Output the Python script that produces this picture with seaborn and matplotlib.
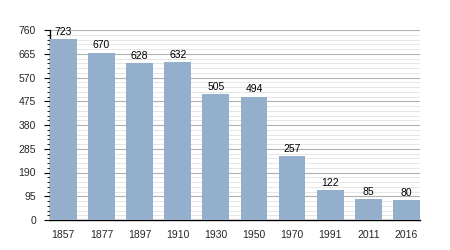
import matplotlib
matplotlib.use("Agg")
import matplotlib.pyplot as plt
import seaborn as sns
import pandas as pd
from matplotlib.ticker import MultipleLocator

years = ["1857", "1877", "1897", "1910", "1930", "1950", "1970", "1991", "2011", "2016"]
population = [723, 670, 628, 632, 505, 494, 257, 122, 85, 80]
yticks = [0, 95, 190, 285, 380, 475, 570, 665, 760]

df = pd.DataFrame({"year": years, "pop": population})

sns.set_theme(style="white")
plt.rcParams["font.family"] = ["Liberation Sans", "DejaVu Sans"]

fig = plt.figure(figsize=(4.5, 2.5), dpi=100)
ax = fig.add_axes([0.111, 0.12, 0.822, 0.76])

sns.barplot(data=df, x="year", y="pop", color="#93afcc", saturation=1, width=0.7,
            linewidth=0, ax=ax, zorder=3)

ax.set_ylim(0, 760)
ax.set_xlim(-0.35, len(years) - 1 + 0.35)
ax.set_yticks(yticks)
ax.yaxis.set_minor_locator(MultipleLocator(19))
ax.grid(axis="y", which="major", color="#b0b0b0", linewidth=0.8, zorder=0)
ax.grid(axis="y", which="minor", color="#e2e2e2", linewidth=0.6, zorder=0)
ax.set_axisbelow(True)

for s in ["top", "right"]:
    ax.spines[s].set_visible(False)
for s in ["left", "bottom"]:
    ax.spines[s].set_color("black")
    ax.spines[s].set_linewidth(1)

ax.tick_params(axis="y", which="major", left=True, length=4, width=0.8, color="black", labelsize=7.5, pad=6)
ax.tick_params(axis="y", which="minor", left=True, length=2, width=0.6, color="black")
ax.tick_params(axis="x", bottom=False, labelsize=7.5, pad=1)
ax.set_xlabel("")
ax.set_ylabel("")

for i, v in enumerate(population):
    ax.text(i, v + 8, str(v), ha="center", va="bottom", fontsize=7.5, color="black")

fig.savefig("out.png", dpi=100)
